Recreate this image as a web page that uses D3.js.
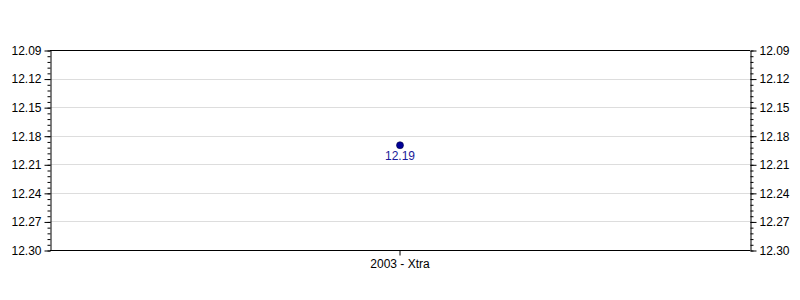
<!DOCTYPE html>
<html>
<head>
<meta charset="utf-8">
<script src="https://cdn.jsdelivr.net/npm/d3@7"></script>
<style>
  body { margin: 0; background: #fff; }
  svg text { font-family: "Liberation Sans", Arial, sans-serif; font-size: 12px; }
</style>
</head>
<body>
<div id="chart"></div>
<script>
// data
var categories = ["2003 - Xtra"];
var values = [12.19];
var yTicks = [12.09, 12.12, 12.15, 12.18, 12.21, 12.24, 12.27, 12.30];

var svg_width = 800,
  svg_height = 300,
  plotLeft = 50,
  plotRight = 750,
  plotTop = 50,
  plotBottom = 250;

const svg = d3.select("#chart").append("svg")
  .attr("width", svg_width)
  .attr("height", svg_height);

var xScale = d3.scaleBand().domain(categories).range([plotLeft, plotRight]);
var yScale = d3.scaleLinear().domain([12.09, 12.30]).range([plotTop, plotBottom]);

// minor ticks every 0.006
var minor = d3.range(0, 36).map(function (i) { return 12.09 + i * 0.006; });

// grid lines
svg.append("g")
  .selectAll("line")
  .data(yTicks.slice(1, -1))
  .enter()
  .append("line")
  .attr("x1", plotLeft)
  .attr("x2", plotRight)
  .attr("y1", function (d) { return Math.round(yScale(d)) + 0.5; })
  .attr("y2", function (d) { return Math.round(yScale(d)) + 0.5; })
  .attr("stroke", "#dddddd");

// frame top/bottom
svg.append("line").attr("x1", plotLeft).attr("x2", plotRight)
  .attr("y1", plotTop + 0.5).attr("y2", plotTop + 0.5).attr("stroke", "#000");
svg.append("line").attr("x1", plotLeft).attr("x2", plotRight)
  .attr("y1", plotBottom + 0.5).attr("y2", plotBottom + 0.5).attr("stroke", "#000");

function drawAxis(makeAxis, x) {
  var g = svg.append("g").attr("transform", "translate(" + (x + 0.5) + ",0.5)");
  g.call(makeAxis(yScale).tickValues(minor).tickSize(3).tickFormat(""));
  g.select(".domain").remove();
  var g2 = svg.append("g").attr("transform", "translate(" + (x + 0.5) + ",0.5)");
  g2.call(makeAxis(yScale).tickValues(yTicks).tickSize(6).tickSizeOuter(0)
    .tickPadding(3).tickFormat(d3.format(".2f")));
  g2.selectAll("text").attr("fill", "#000").style("font-size", "12px");
  g2.select(".domain").attr("stroke", "#000");
  return g2;
}

drawAxis(d3.axisLeft, plotLeft);
drawAxis(d3.axisRight, plotRight);

// x axis
var gx = svg.append("g")
  .attr("transform", "translate(0," + (plotBottom + 0.5) + ")")
  .call(d3.axisBottom(xScale).tickSize(5).tickSizeOuter(0).tickPadding(4));
gx.select(".domain").remove();
gx.selectAll("text").attr("fill", "#000").style("font-size", "12px");

// points
svg.selectAll("circle.pt")
  .data(values)
  .enter()
  .append("circle")
  .attr("class", "pt")
  .attr("cx", function (d, i) { return xScale(categories[i]) + xScale.bandwidth() / 2; })
  .attr("cy", function (d) { return yScale(d); })
  .attr("r", 3.5)
  .attr("fill", "#000099")
  .attr("stroke", "#000040")
  .attr("stroke-width", 0.6);

svg.selectAll("text.lbl")
  .data(values)
  .enter()
  .append("text")
  .attr("class", "lbl")
  .attr("x", function (d, i) { return xScale(categories[i]) + xScale.bandwidth() / 2; })
  .attr("y", function (d) { return yScale(d) + 15; })
  .attr("text-anchor", "middle")
  .attr("fill", "#1a1a99")
  .style("font-size", "12px")
  .text(function (d) { return d.toFixed(2); });
</script>
</body>
</html>
